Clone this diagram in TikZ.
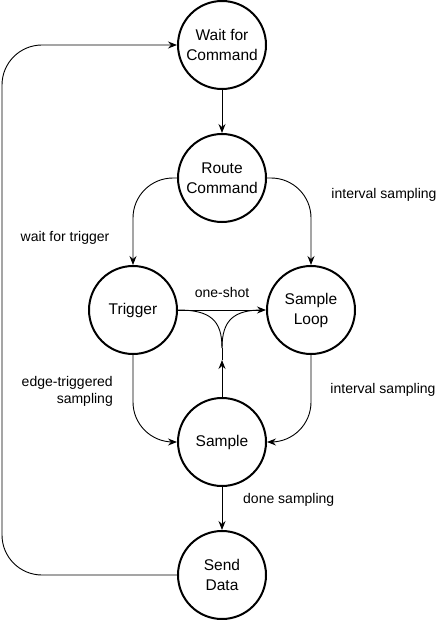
\documentclass[tikz,border=0pt]{standalone}
\usepackage{fontspec}
\setmainfont{Liberation Sans}
\usetikzlibrary{arrows.meta}
\begin{document}
\begin{tikzpicture}[x=1pt,y=-1pt,
  state/.style={circle,draw,line width=2pt,minimum size=88pt,inner sep=0pt,align=center,font=\fontsize{15.5}{20}\selectfont},
  lbl/.style={font=\fontsize{14}{17}\selectfont,inner sep=0pt,align=center},
  edge/.style={line width=0.9pt,-{Stealth[length=9pt,width=7pt,inset=3pt]}},
  plain/.style={line width=0.9pt}]
\useasboundingbox (0,0) rectangle (437,620);
\node[state] (wait) at (222,45) {Wait for\\Command};
\node[state] (route) at (222,178) {Route\\Command};
\node[state] (trig) at (133,310) {Trigger};
\node[state] (loop) at (311,310) {Sample\\Loop};
\node[state] (samp) at (222,442) {Sample};
\node[state] (send) at (222,575) {Send\\Data};
\coordinate (tl) at (2,45);
\coordinate (j) at (222,348);
\coordinate (mid) at (222,360);

\draw[edge] (wait) -- (route);
\draw[edge,rounded corners=40pt] (route.west) -| (trig.north);
\draw[edge,rounded corners=40pt] (route.east) -| (loop.north);
\draw[edge] (trig.east) -- (loop.west);
\draw[edge,rounded corners=40pt] (trig.south) |- (samp.west);
\draw[edge,rounded corners=40pt] (loop.south) |- (samp.east);
\draw[edge] (samp) -- (send);
\draw[edge,rounded corners=40pt] (send.west) -| (tl) -- (wait.west);
\draw[edge] (samp.north) -- (mid);
\draw[plain] (mid) -- (j);
\draw[plain] (j) .. controls (222,320) and (210,310) .. (trig.east);
\draw[plain] (j) .. controls (222,320) and (234,310) .. (262,310);

\node[lbl] (l1) at (65,238) {wait for trigger};
\node[lbl] (l2) at (384,195) {interval sampling};
\node[lbl] (l3) at (222,292) {one-shot};
\node[lbl,anchor=east,align=right] (l4) at (113,391) {edge-triggered\\sampling};
\node[lbl] (l5) at (383,390) {interval sampling};
\node[lbl,anchor=west] (l6) at (243,500) {done sampling};
\end{tikzpicture}
\end{document}
